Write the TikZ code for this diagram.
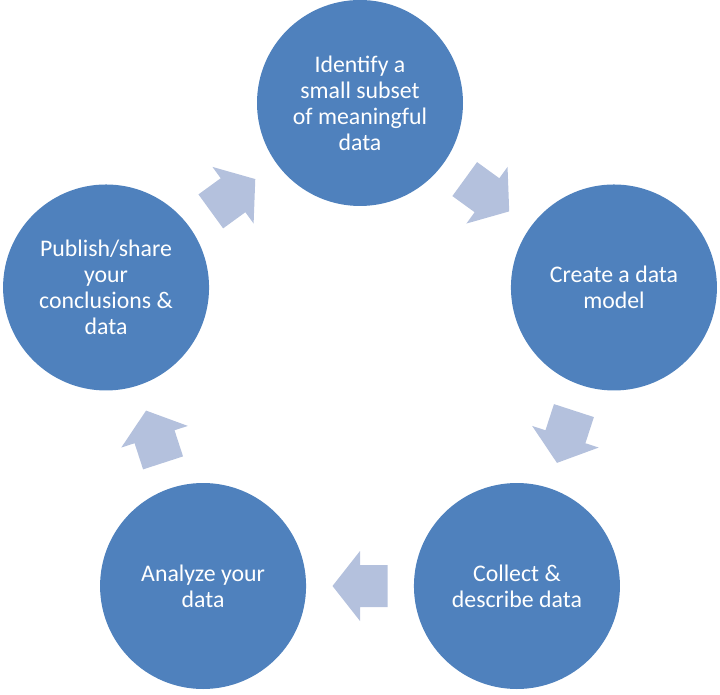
\documentclass[tikz,border=0pt]{standalone}
\usepackage{fontspec}
\setmainfont{Carlito}
\usetikzlibrary{calc}
\definecolor{stageblue}{RGB}{79,129,189}
\definecolor{arrowblue}{RGB}{180,193,221}

\begin{document}
\begin{tikzpicture}[x=1pt,y=1pt]
   \tikzset{stage/.style={circle, fill=stageblue, text=white, align=center,
      minimum size=206pt, inner sep=0pt, font=\fontsize{23.8}{26}\selectfont},
   cyclearrow/.pic={
      \fill[arrowblue] (-27.5,-21) -- (0,-21) -- (0,-35) -- (27.5,0)
         -- (0,35) -- (0,21) -- (-27.5,21) -- cycle;
   },
   }
 \useasboundingbox (0,0) rectangle (720,695);
 \coordinate (centre) at (360,325);

 \node [stage] (identify) at ($(centre)+(90:267)$) {Identify a\\small subset\\of meaningful\\data};
 \node [stage] (model) at ($(centre)+(18:267)$) {Create a data\\model};
 \node [stage] (collect) at ($(centre)+(-54:267)$) {Collect \&\\describe data};
 \node [stage] (analyze) at ($(centre)+(-126:267)$) {Analyze your\\data};
 \node [stage] (publish) at ($(centre)+(162:267)$) {Publish/share\\your\\conclusions \&\\data};

 % block arrows between the stages
 \foreach \from/\to in {identify/model, model/collect, collect/analyze, analyze/publish, publish/identify}
   \path let \p1=($(\to)-(\from)$), \n1={atan2(\y1,\x1)} in
      ($(\from)!0.5!(\to)$) pic[rotate=\n1] {cyclearrow};
\end{tikzpicture}
\end{document}
